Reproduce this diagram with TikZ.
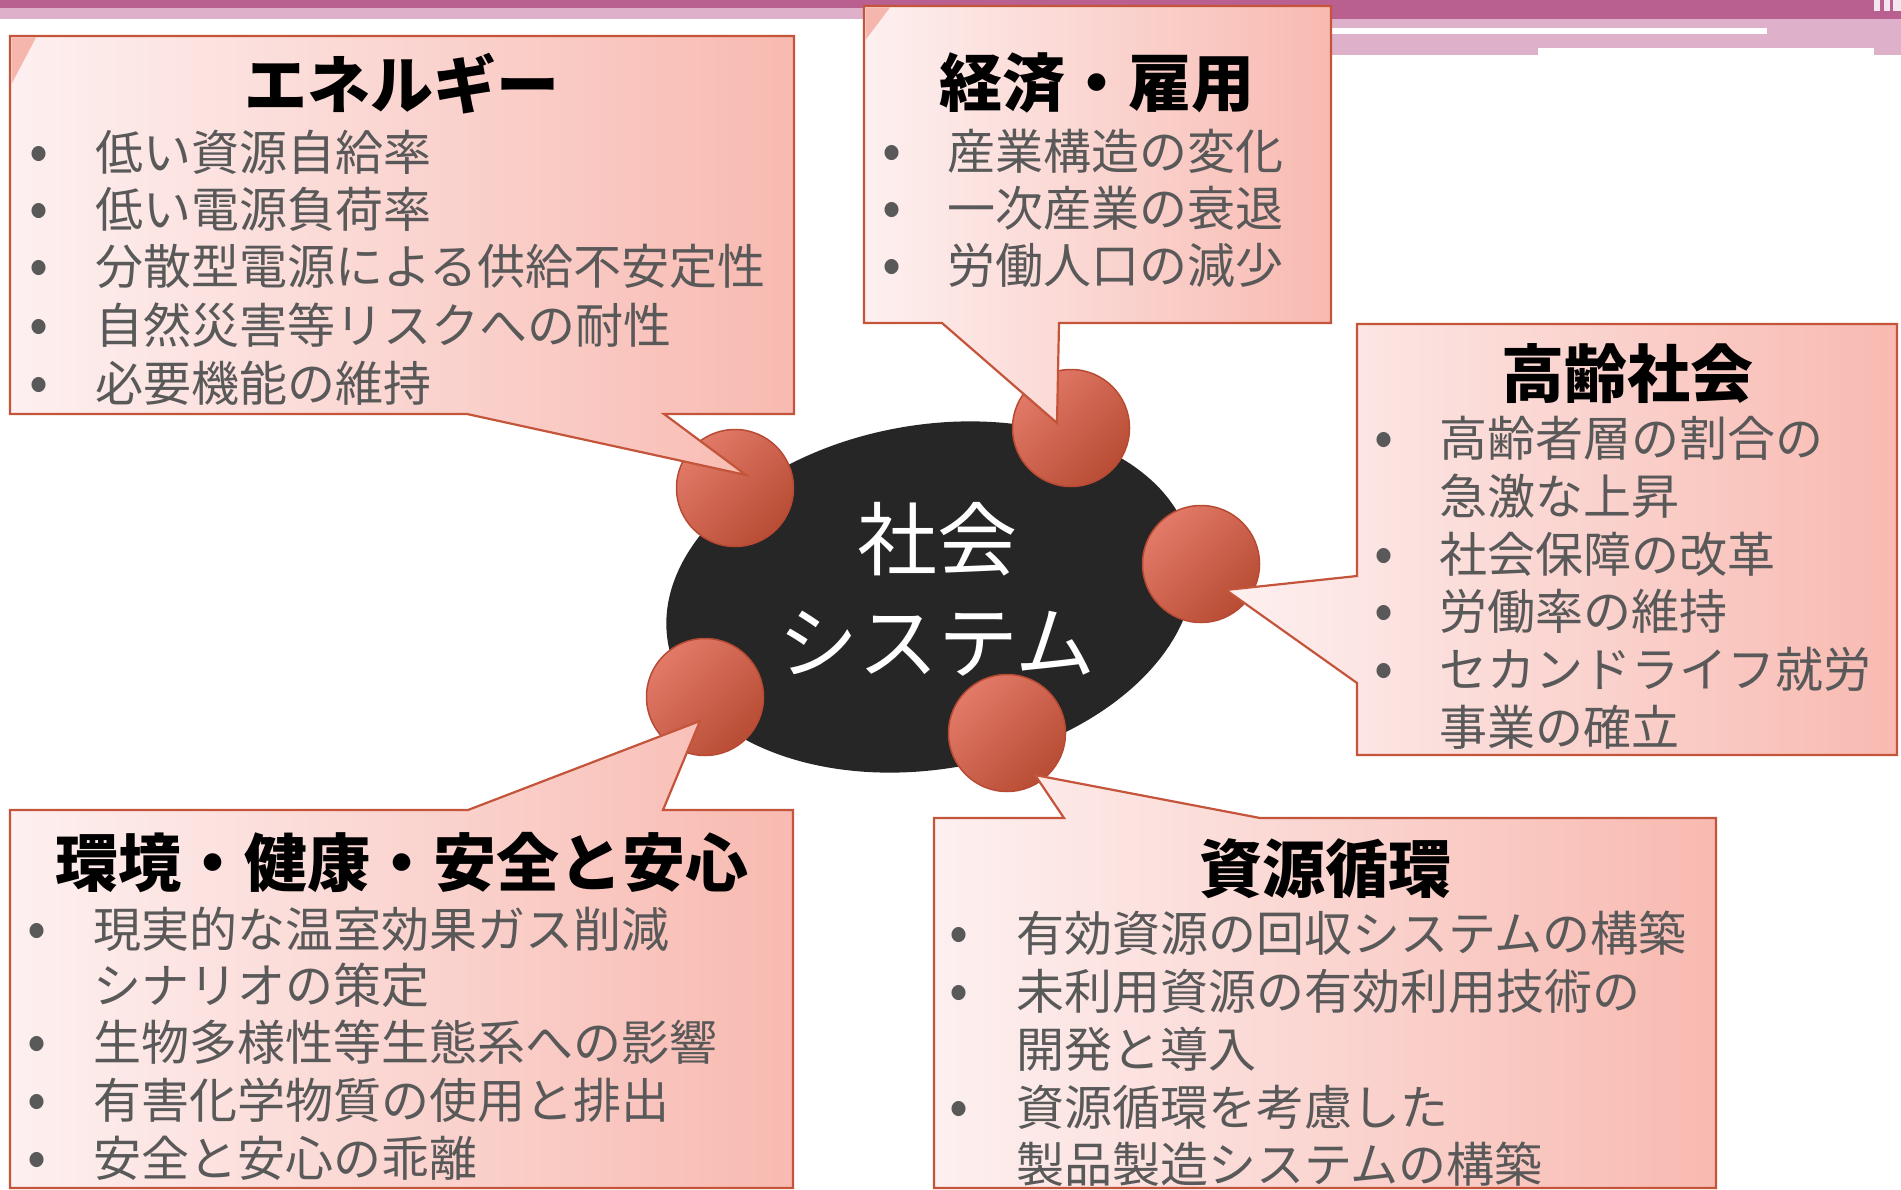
\documentclass[tikz,border=0pt]{standalone}
\usepackage{fontspec}
\newfontfamily\jp{Noto Sans CJK JP}
\definecolor{bandpurple}{RGB}{186,96,144}
\definecolor{bandpink}{RGB}{223,176,202}
\definecolor{boxborder}{RGB}{196,84,58}
\definecolor{boxlight}{RGB}{253,240,240}
\definecolor{boxdark}{RGB}{248,186,177}
\definecolor{itemgray}{RGB}{89,89,89}
\definecolor{ballhi}{RGB}{226,122,104}
\definecolor{balllo}{RGB}{184,76,52}
\definecolor{ballborder}{RGB}{184,74,52}
\definecolor{core}{RGB}{38,38,38}
\definecolor{cornerpink}{RGB}{244,168,158}
\begin{document}
\begin{tikzpicture}[x=1pt,y=-1pt,
  callout/.style={draw=boxborder, line width=2.2pt, left color=boxlight, right color=boxdark, line join=miter},
  ball/.style={circle, draw=ballborder, line width=1.5pt, minimum size=117pt, inner sep=0pt,
    top color=ballhi, bottom color=balllo, shading angle=45},
  ttl/.style={font=\jp\bfseries\fontsize{63}{63}\selectfont, text=black, inner sep=0pt, anchor=base},
  itm/.style={font=\jp\fontsize{48}{48}\selectfont, text=itemgray, inner sep=0pt, anchor=base west},
  bul/.style={font=\jp\fontsize{56}{56}\selectfont, text=itemgray, inner sep=0pt, anchor=base},
  coretext/.style={font=\jp\fontsize{80}{80}\selectfont, text=white, inner sep=0pt, anchor=base}
]
\useasboundingbox (0,0) rectangle (1901,1190);
\fill[white] (0,0) rectangle (1901,1190);

% top band
\fill[bandpurple] (0,0) rectangle (1901,8);
\fill[bandpink] (0,8) rectangle (1100,19);
\fill[bandpurple] (1100,8) rectangle (1901,19);
\fill[bandpink] (1100,19) rectangle (1901,55);
\fill[white] (1331,28) rectangle (1767,34);
\fill[white] (1538,48) rectangle (1874,56);
\fill[white!70!bandpink] (1874,0) rectangle (1880,11);
\fill[white!70!bandpink] (1884,0) rectangle (1890,11);
\fill[white!70!bandpink] (1893,0) rectangle (1901,11);

% central ellipse
\fill[core, rotate around={10:(930,597)}] (930,597) ellipse [x radius=266, y radius=172];
\node[coretext] (c1) at (937,569) {社会};
\node[coretext] (c2) at (937,672) {システム};

% balls
\node[ball] (b1) at (735,488) {};
\node[ball] (b2) at (1071,428) {};
\node[ball] (b3) at (1201,564) {};
\node[ball] (b4) at (705,697) {};
\node[ball] (b5) at (1007,733) {};

% pointer tips
\coordinate (t1) at (746,475);
\coordinate (t2) at (1057,423);
\coordinate (t3) at (1226,590);
\coordinate (t4) at (700,721);
\coordinate (t5) at (1035,775);

% callouts
\draw[callout] (10,36) -- (794,36) -- (794,414) -- (664,414) -- (t1) -- (467,414) -- (10,414) -- cycle;
\draw[callout] (864,6) -- (1331,6) -- (1331,323) -- (1059,323) -- (t2) -- (942,323) -- (864,323) -- cycle;
\draw[callout] (1357,324) -- (1897,324) -- (1897,755) -- (1357,755) -- (1357,683) -- (t3) -- (1357,576) -- cycle;
\draw[callout] (10,810) -- (468,810) -- (t4) -- (663,810) -- (793,810) -- (793,1188) -- (10,1188) -- cycle;
\draw[callout] (934,818) -- (1064,818) -- (t5) -- (1260,818) -- (1716,818) -- (1716,1188) -- (934,1188) -- cycle;

% corner shadows
\fill[cornerpink, opacity=0.8] (11.5,37.5) -- (36,37.5) -- (11.5,84) -- cycle;
\fill[cornerpink, opacity=0.8] (865.5,7.5) -- (890,7.5) -- (865.5,40) -- cycle;

% box 1
\node[ttl] (h1) at (402,109) {エネルギー};
\foreach \y/\t in {171/低い資源自給率, 228/低い電源負荷率, 285/分散型電源による供給不安定性, 343/自然災害等リスクへの耐性, 401/必要機能の維持}{
  \node[bul] at (39,\y) {•};
  \node[itm] at (95,\y) {\t};
}

% box 2
\node[ttl] (h2) at (1097,107) {経済・雇用};
\foreach \y/\t in {170/産業構造の変化, 227/一次産業の衰退, 284/労働人口の減少}{
  \node[bul] at (892,\y) {•};
  \node[itm] at (947,\y) {\t};
}

% box 3
\node[ttl] (h3) at (1627,397) {高齢社会};
\foreach \y in {456,572,629,687}{ \node[bul] at (1384,\y) {•}; }
\node[itm] (i31) at (1439,456) {高齢者層の割合の};
\node[itm] (i32) at (1439,514) {急激な上昇};
\node[itm] (i33) at (1439,572) {社会保障の改革};
\node[itm] (i34) at (1439,629) {労働率の維持};
\node[itm] (i35) at (1439,687) {セカンドライフ就労};
\node[itm] (i36) at (1439,745) {事業の確立};

% box 4
\node[ttl] (h4) at (402,886) {環境・健康・安全と安心};
\foreach \y in {947,1060,1118,1176}{ \node[bul] at (37,\y) {•}; }
\node[itm] (i41) at (93,947) {現実的な温室効果ガス削減};
\node[itm] (i42) at (93,1003) {シナリオの策定};
\node[itm] (i43) at (93,1060) {生物多様性等生態系への影響};
\node[itm] (i44) at (93,1118) {有害化学物質の使用と排出};
\node[itm] (i45) at (93,1176) {安全と安心の乖離};

% box 5
\node[ttl] (h5) at (1325,892) {資源循環};
\foreach \y in {951,1009,1125}{ \node[bul] at (959,\y) {•}; }
\node[itm] (i51) at (1016,951) {有効資源の回収システムの構築};
\node[itm] (i52) at (1016,1009) {未利用資源の有効利用技術の};
\node[itm] (i53) at (1016,1067) {開発と導入};
\node[itm] (i54) at (1016,1125) {資源循環を考慮した};
\node[itm] (i55) at (1016,1182) {製品製造システムの構築};
\end{tikzpicture}
\end{document}
